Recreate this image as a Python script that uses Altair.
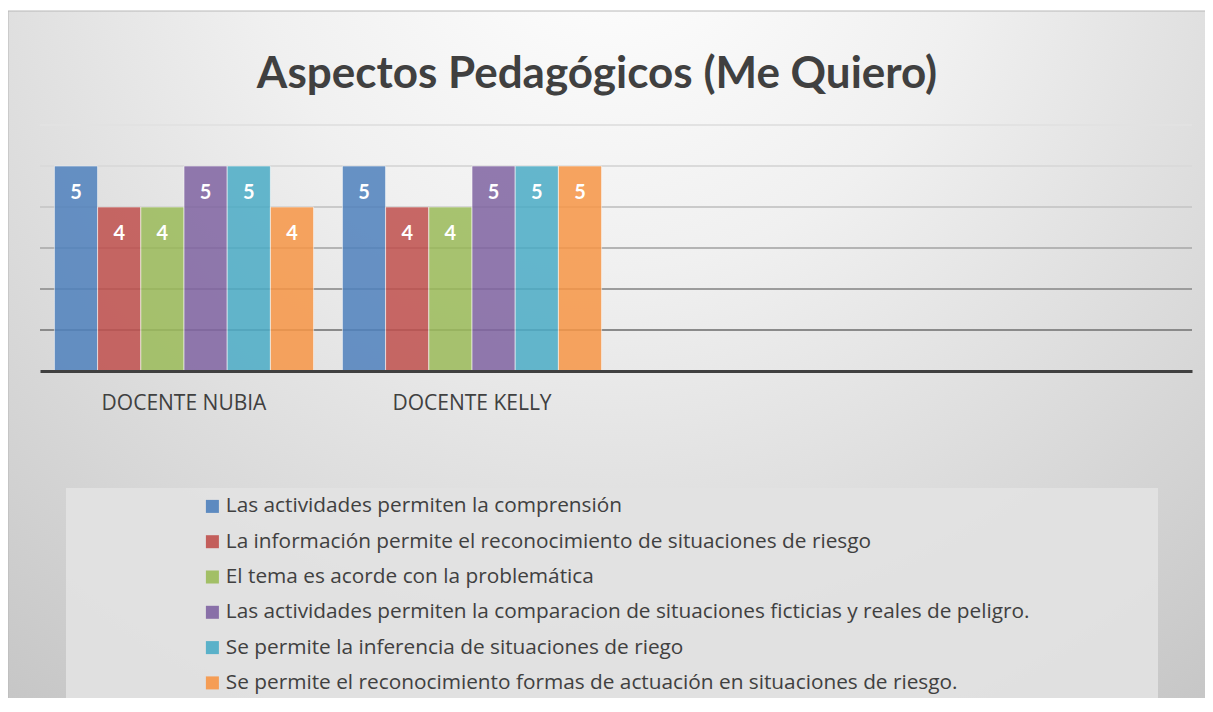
import altair as alt
import pandas as pd

# ---- data ----
docentes = ["DOCENTE NUBIA", "DOCENTE KELLY", " ", "  "]
series = [
    "Las actividades permiten la comprensión",
    "La información permite el reconocimiento de situaciones de riesgo",
    "El tema es acorde con la problemática",
    "Las actividades permiten la comparacion de situaciones ficticias y reales de peligro.",
    "Se permite la inferencia de situaciones de riego",
    "Se permite el reconocimiento formas de actuación en situaciones de riesgo.",
]
nubia = [5, 4, 4, 5, 5, 4]
kelly = [5, 4, 4, 5, 5, 5]
colors = ["#4F81BD", "#C0504D", "#9BBB59", "#8064A2", "#4BACC6", "#F79646"]
grid_values = [1, 2, 3, 4, 5, 6]
grid_colors = ["#8a8a8a", "#9c9c9c", "#b4b4b4", "#cacaca", "#dadada", "#e2e2e2"]

rows = []
for s, v in zip(series, nubia):
    rows.append({"docente": docentes[0], "serie": s, "valor": v})
for s, v in zip(series, kelly):
    rows.append({"docente": docentes[1], "serie": s, "valor": v})
df = pd.DataFrame(rows)
grid_df = pd.DataFrame({"v": grid_values, "gc": grid_colors})

FONT = "Open Sans"
TFONT = "Lato"
W, H = 1152, 246

one = pd.DataFrame({"k": [0]})

frame = alt.Chart(one).mark_rect(
    fill={
        "gradient": "radial",
        "x1": 0.5, "y1": 0.12, "r1": 0.0,
        "x2": 0.5, "y2": 0.12, "r2": 0.85,
        "stops": [
            {"offset": 0.0, "color": "#ffffff"},
            {"offset": 0.35, "color": "#f0f0f0"},
            {"offset": 1.0, "color": "#c4c4c4"},
        ],
    },
    stroke="#b8b8b8",
    strokeWidth=1,
).encode(
    x=alt.value(-32), x2=alt.value(1175),
    y=alt.value(-114), y2=alt.value(600),
)

legend_box = alt.Chart(one).mark_rect(fill="#e2e2e2", opacity=0.9).encode(
    x=alt.value(26), x2=alt.value(1118),
    y=alt.value(363), y2=alt.value(575),
)

ysc = alt.Scale(domain=[0, 6], nice=False)

grid = alt.Chart(grid_df).mark_rule(strokeWidth=2).encode(
    y=alt.Y("v:Q", scale=ysc, axis=None),
    stroke=alt.Stroke("gc:N", scale=None),
)

xenc = alt.X(
    "docente:N",
    sort=docentes,
    scale=alt.Scale(domain=docentes, paddingInner=0.1, paddingOuter=0.05),
    axis=alt.Axis(
        title=None, labelAngle=0, ticks=False, labelFont=FONT, labelFontSize=21,
        labelColor="#404040", labelPadding=21, domainColor="#404040", domainWidth=3,
        grid=False, zindex=1,
    ),
)
xoff = alt.XOffset("serie:N", sort=series,
                   scale=alt.Scale(domain=series, paddingInner=0, paddingOuter=0))

bars = alt.Chart(df).mark_bar(opacity=0.85, stroke="#ffffff", strokeWidth=1, strokeOpacity=0.6).encode(
    x=xenc,
    xOffset=xoff,
    y=alt.Y("valor:Q", scale=ysc, axis=None),
    color=alt.Color(
        "serie:N",
        sort=series,
        scale=alt.Scale(domain=series, range=colors),
        legend=alt.Legend(
            title=None, orient="none", legendX=162, legendY=371, padding=0,
            labelFont=FONT, labelFontSize=20.8, labelColor="#404040",
            symbolType="square", symbolSize=169, symbolStrokeWidth=0,
            rowPadding=13.3, labelOffset=3, labelLimit=1100, symbolOpacity=0.9,
        ),
    ),
)

labels = alt.Chart(df).mark_text(
    dy=27, color="#ffffff", font=TFONT, fontWeight="bold", fontSize=20, baseline="middle"
).encode(
    x=alt.X("docente:N", sort=docentes),
    xOffset=alt.XOffset("serie:N", sort=series),
    y=alt.Y("valor:Q"),
    text=alt.Text("valor:Q"),
)

chart = alt.layer(frame, legend_box, grid, bars, labels).properties(
    width=W,
    height=H,
    title=alt.TitleParams(
        "Aspectos Pedagógicos (Me Quiero)", font=TFONT, fontSize=44, fontWeight="bold",
        color="#404040", anchor="middle", offset=-86, dx=-19,
    ),
    autosize=alt.AutoSizeParams(type="none"),
    padding={"left": 32, "top": 117, "right": 13, "bottom": 327},
    background="#ffffff",
).configure_view(stroke=None)

chart.save("out.html", embed_options={"renderer": "svg", "actions": False})
